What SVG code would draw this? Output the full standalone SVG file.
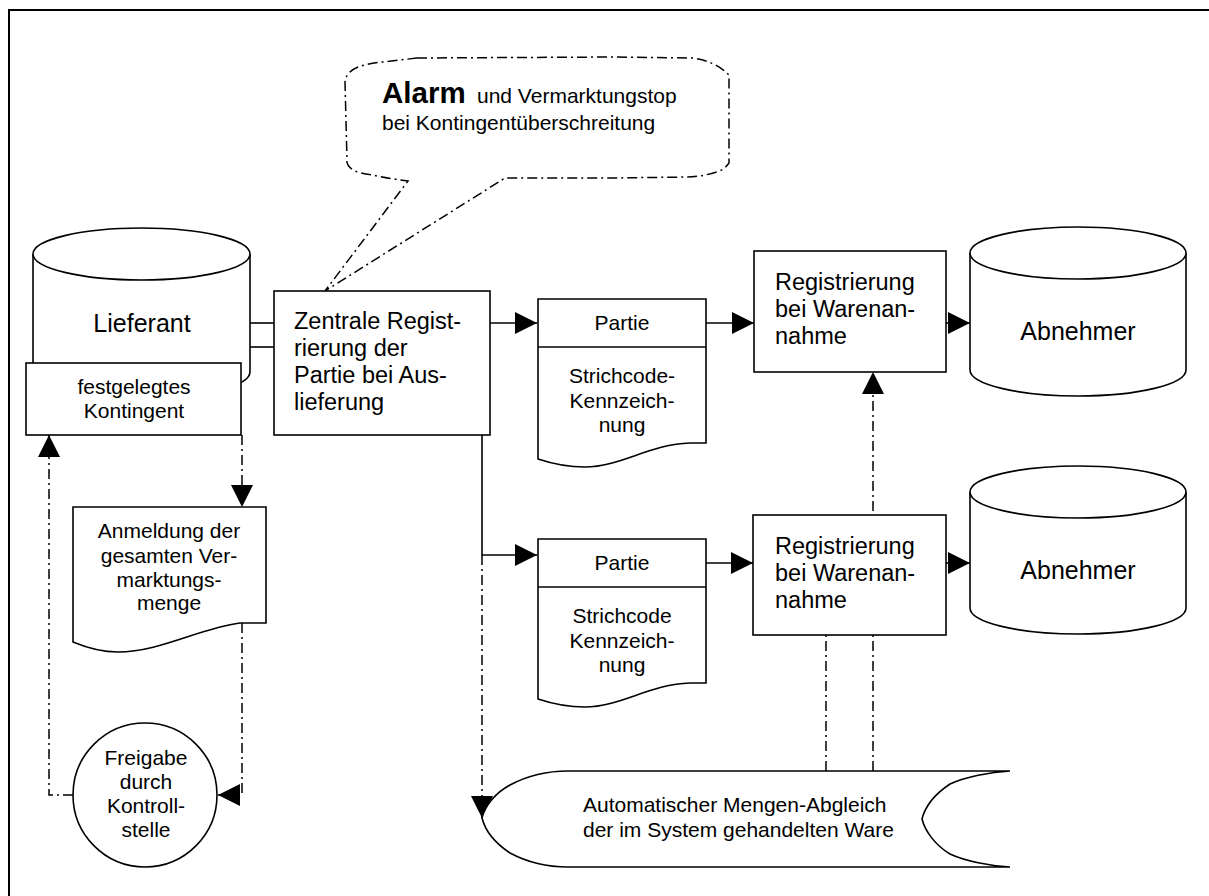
<svg xmlns="http://www.w3.org/2000/svg" width="1209" height="896" viewBox="0 0 1209 896">
  <style>
    .shape { fill: #ffffff; stroke: #000000; stroke-width: 1.6; }
    .line { fill: none; stroke: #000000; stroke-width: 1.6; }
    .dash { fill: none; stroke: #000000; stroke-width: 1.5; stroke-dasharray: 10 4 2 4; }
    text { font-family: "Liberation Sans", Arial, sans-serif; fill: #000000; }
    .big { font-size: 25px; }
    .proc { font-size: 23.5px; }
    .small { font-size: 21px; }
    .mid { text-anchor: middle; }
  </style>
  <defs>
    <marker id="arrow" markerUnits="userSpaceOnUse" markerWidth="22" markerHeight="22" viewBox="0 0 20 20" refX="20" refY="10" orient="auto">
      <path d="M0,0 L20,10 L0,20 Z" fill="#000000" stroke="none"/>
    </marker>
  </defs>

  <rect width="1209" height="896" fill="#ffffff"/>
  <!-- page frame -->
  <rect x="9" y="10" width="1230" height="910" fill="none" stroke="#000000" stroke-width="2"/>

  <!-- connectors -->
  <g id="connectors">
    <path class="line" d="M250,323 H274"/>
    <path class="line" d="M250,347 H274"/>
    <path class="line" d="M490,323 H537" marker-end="url(#arrow)"/>
    <path class="line" d="M706,323 H754" marker-end="url(#arrow)"/>
    <path class="line" d="M946,323 H970" marker-end="url(#arrow)"/>
    <path class="line" d="M482,435 V555 H537" marker-end="url(#arrow)"/>
    <path class="dash" d="M482,555 V818" marker-end="url(#arrow)"/>
    <path class="line" d="M706,563 H753" marker-end="url(#arrow)"/>
    <path class="line" d="M946,563 H970" marker-end="url(#arrow)"/>
    <path class="dash" d="M242,435 V507" marker-end="url(#arrow)"/>
    <path class="dash" d="M242,623 V795 H218" marker-end="url(#arrow)"/>
    <path class="dash" d="M73,795 H49 V435" marker-end="url(#arrow)"/>
    <path class="dash" d="M873,771 V372" marker-end="url(#arrow)"/>
    <path class="dash" d="M826,771 V635"/>
  </g>

  <!-- callout -->
  <g id="alarm-callout">
    <path class="dash" style="fill:#ffffff" d="M417,58 L613,57 L693,58 Q715,61 729,75 L729,163 Q724,170 717,172 Q700,177 687,177 L613,178 L505,178 L325,291 L408,181 Q385,178 373,175 Q358,173 353,170 Q346,165 347,160 L345,82 Q346,72 358,67 Q370,63 383,62 Z"/>
    <text x="382" y="103" style="font-size:29.5px;font-weight:bold">Alarm</text>
    <text x="477" y="103" class="small">und Vermarktungstop</text>
    <text x="382" y="130" class="small">bei Kontingentüberschreitung</text>
  </g>

  <!-- supplier store -->
  <g id="lieferant">
    <path class="shape" d="M33,254 V372 A108.5,26 0 0 0 250,372 V254"/>
    <ellipse class="shape" cx="141.5" cy="254" rx="108.5" ry="26"/>
    <text x="142" y="332" class="big mid">Lieferant</text>
  </g>

  <g id="kontingent">
    <rect class="shape" x="26" y="363" width="215" height="72"/>
    <text x="134" y="394" class="small mid">festgelegtes</text>
    <text x="134" y="418" class="small mid">Kontingent</text>
  </g>

  <g id="zentrale-registrierung">
    <rect class="shape" x="274" y="291" width="216" height="144"/>
    <text x="294" y="329" class="proc">Zentrale Regist-</text>
    <text x="294" y="356" class="proc">rierung der</text>
    <text x="294" y="383" class="proc">Partie bei Aus-</text>
    <text x="294" y="410" class="proc">lieferung</text>
  </g>

  <g id="partie-1">
    <path class="shape" d="M538,299 H706 V443 H690 C650,444 620,467 585,467 C565,467 550,463 538,459 Z"/>
    <path class="line" d="M538,347 H706"/>
    <text x="622" y="330" class="small mid">Partie</text>
    <text x="622" y="383" class="small mid">Strichcode-</text>
    <text x="622" y="408" class="small mid">Kennzeich-</text>
    <text x="622" y="432" class="small mid">nung</text>
  </g>

  <g id="partie-2">
    <path class="shape" d="M538,539 H706 V683 H690 C650,684 620,707 585,707 C565,707 550,703 538,699 Z"/>
    <path class="line" d="M538,587 H706"/>
    <text x="622" y="570" class="small mid">Partie</text>
    <text x="622" y="623" class="small mid">Strichcode</text>
    <text x="622" y="648" class="small mid">Kennzeich-</text>
    <text x="622" y="672" class="small mid">nung</text>
  </g>

  <g id="registrierung-1">
    <rect class="shape" x="754" y="251" width="192" height="121"/>
    <text x="775" y="290" class="proc">Registrierung</text>
    <text x="775" y="317" class="proc">bei Warenan-</text>
    <text x="775" y="344" class="proc">nahme</text>
  </g>

  <g id="registrierung-2">
    <rect class="shape" x="753" y="515" width="193" height="120"/>
    <text x="775" y="554" class="proc">Registrierung</text>
    <text x="775" y="581" class="proc">bei Warenan-</text>
    <text x="775" y="608" class="proc">nahme</text>
  </g>

  <g id="abnehmer-1">
    <path class="shape" d="M970,253 V370 A108,26 0 0 0 1186,370 V253"/>
    <ellipse class="shape" cx="1078" cy="253" rx="108" ry="26"/>
    <text x="1078" y="340" class="big mid">Abnehmer</text>
  </g>

  <g id="abnehmer-2">
    <path class="shape" d="M970,492 V608 A108,26 0 0 0 1186,608 V492"/>
    <ellipse class="shape" cx="1078" cy="492" rx="108" ry="26"/>
    <text x="1078" y="579" class="big mid">Abnehmer</text>
  </g>

  <g id="anmeldung">
    <path class="shape" d="M73,507 H266 V623 H240 C200,628 160,652 118,652 C100,652 85,647 73,642 Z"/>
    <text x="169" y="538" class="small mid">Anmeldung der</text>
    <text x="169" y="563" class="small mid">gesamten Ver-</text>
    <text x="169" y="587" class="small mid">marktungs-</text>
    <text x="169" y="610" class="small mid">menge</text>
  </g>

  <g id="freigabe">
    <circle class="shape" cx="145" cy="795" r="72"/>
    <text x="146" y="765" class="small mid">Freigabe</text>
    <text x="146" y="789" class="small mid">durch</text>
    <text x="146" y="813" class="small mid">Kontroll-</text>
    <text x="146" y="837" class="small mid">stelle</text>
  </g>

  <g id="mengenabgleich">
    <path class="shape" d="M568,771 H1010 C990,772 965,777 950,784 C935,794 925,807 922,819 C925,831 935,845 950,854 C965,861 990,866 1010,867 H568 C545,867 525,861 510,853 C495,843 485,830 482,818 C485,806 495,793 510,785 C525,777 545,771 568,771 Z"/>
    <text x="583" y="812" class="small">Automatischer Mengen-Abgleich</text>
    <text x="583" y="837" class="small">der im System gehandelten Ware</text>
  </g>
</svg>
